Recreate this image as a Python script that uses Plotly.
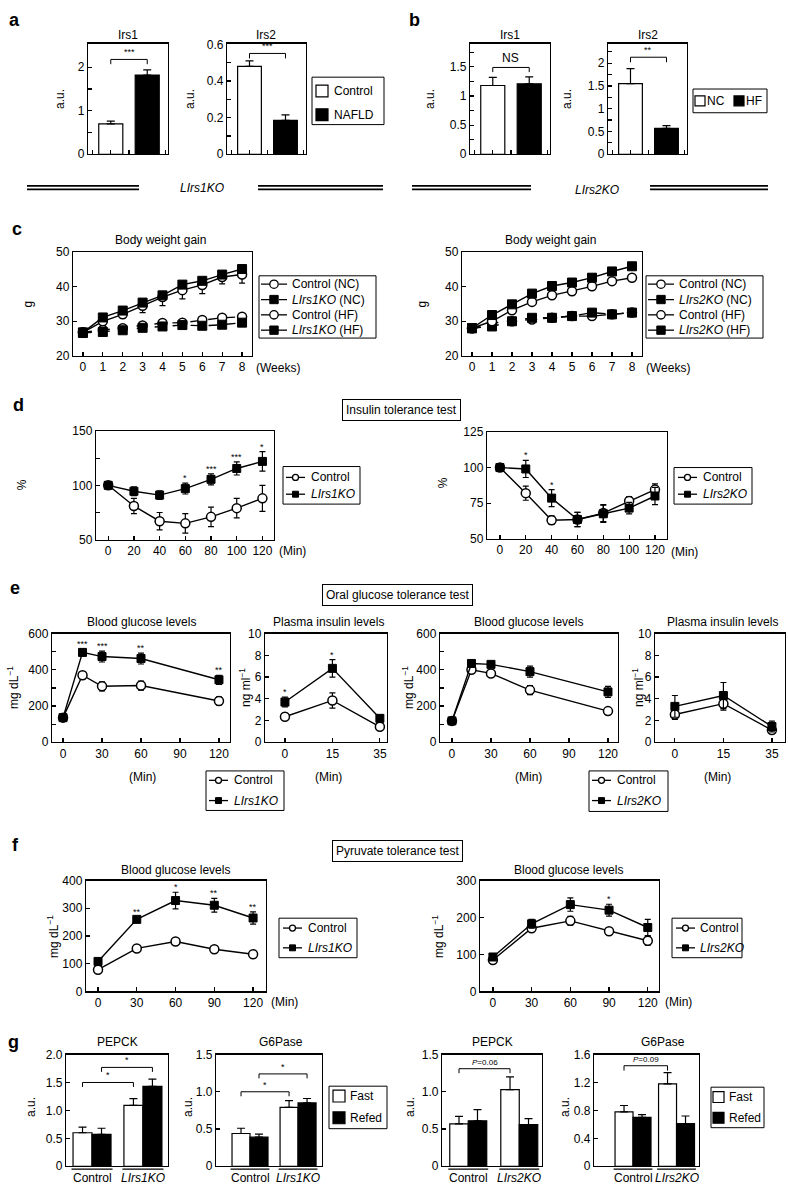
import plotly.graph_objects as go

W, H = 788, 1193
FONT = "Arial, 'Liberation Sans', Helvetica, sans-serif"

# ----------------------------- DATA -----------------------------
# a : human liver Irs1 / Irs2
a_groups = ["Control", "NAFLD"]
a_irs1 = [0.70, 1.82]
a_irs1_err = [0.06, 0.12]
a_irs2 = [0.48, 0.185]
a_irs2_err = [0.03, 0.03]
# b : mouse liver Irs1 / Irs2
b_groups = ["NC", "HF"]
b_irs1 = [1.18, 1.21]
b_irs1_err = [0.14, 0.12]
b_irs2 = [1.55, 0.57]
b_irs2_err = [0.33, 0.06]

# c : body weight gain
weeks = [0, 1, 2, 3, 4, 5, 6, 7, 8]
c1_ctrl_nc = [26.8, 27.5, 28.0, 28.8, 29.5, 29.6, 30.4, 31.0, 31.3]
c1_ko_nc = [26.6, 26.9, 27.4, 28.1, 28.5, 28.9, 28.7, 29.0, 29.6]
c1_ctrl_hf = [26.8, 30.0, 32.0, 34.5, 37.0, 39.0, 40.5, 42.8, 43.5]
c1_ctrl_hf_err = [0.5, 1.0, 1.0, 2.0, 2.5, 2.5, 2.5, 2.0, 2.5]
c1_ko_hf = [26.8, 31.1, 33.1, 35.4, 37.5, 40.6, 41.7, 43.5, 45.1]
c1_ko_hf_err = [0.5, 0.5, 0.6, 0.8, 0.8, 0.8, 0.8, 0.8, 0.8]
c2_ctrl_nc = [28.0, 29.5, 30.0, 30.5, 31.0, 31.5, 31.5, 32.0, 32.5]
c2_ko_nc = [28.0, 28.5, 30.0, 31.0, 31.0, 31.5, 32.5, 32.0, 32.5]
c2_ctrl_hf = [28.0, 30.0, 33.2, 35.6, 37.5, 38.7, 40.1, 41.6, 42.6]
c2_ctrl_hf_err = [0.5, 0.8, 0.8, 0.8, 0.8, 0.8, 0.8, 0.8, 1.0]
c2_ko_hf = [28.0, 31.8, 34.9, 38.0, 40.2, 41.2, 42.6, 44.4, 45.9]
c2_ko_hf_err = [0.5, 0.8, 0.8, 0.8, 0.8, 0.8, 0.8, 1.0, 1.0]

# d : insulin tolerance test (%)
itt_t = [0, 20, 40, 60, 80, 100, 120]
d1_ctrl = [100, 81, 67, 65, 71, 79, 88]
d1_ctrl_err = [1, 7, 8, 9, 9, 9, 12]
d1_ko = [100, 94.5, 91, 97, 105.5, 115.5, 122]
d1_ko_err = [1, 4, 4, 5, 5, 6, 9]
d1_sig = ["", "", "", "*", "***", "***", "*"]
d2_ctrl = [100, 82, 63, 63.5, 68, 76.5, 84.5]
d2_ctrl_err = [1, 5, 3, 5, 6, 3, 4]
d2_ko = [100, 99, 78.5, 63.5, 67.5, 71.5, 80]
d2_ko_err = [1, 6, 6, 5, 6, 4, 6]
d2_sig = ["", "*", "*", "", "", "", ""]

# e : oral glucose tolerance test
ogtt_t = [0, 15, 30, 60, 120]
e1_ctrl = [136, 370, 309, 313, 228]
e1_ctrl_err = [10, 20, 25, 25, 22]
e1_ko = [136, 496, 473, 462, 345]
e1_ko_err = [10, 18, 30, 30, 25]
e1_sig = ["", "***", "***", "**", "**"]
ins_t = ["0", "15", "35"]
e2_ctrl = [2.35, 3.85, 1.42]
e2_ctrl_err = [0.3, 0.7, 0.15]
e2_ko = [3.7, 6.8, 2.2]
e2_ko_err = [0.45, 0.8, 0.3]
e2_sig = ["*", "*", ""]
e3_ctrl = [118, 400, 380, 288, 172]
e3_ctrl_err = [10, 15, 15, 25, 15]
e3_ko = [118, 435, 430, 390, 278]
e3_ko_err = [10, 15, 15, 30, 30]
e4_ctrl = [2.55, 3.55, 1.12]
e4_ctrl_err = [0.45, 0.6, 0.25]
e4_ko = [3.3, 4.3, 1.45]
e4_ko_err = [1.0, 1.2, 0.5]

# f : pyruvate tolerance test
ptt_t = [0, 30, 60, 90, 120]
f1_ctrl = [78, 155, 180, 152, 134]
f1_ctrl_err = [4, 5, 10, 5, 5]
f1_ko = [108, 260, 328, 311, 265]
f1_ko_err = [5, 10, 30, 25, 22]
f1_sig = ["", "**", "*", "**", "**"]
f2_ctrl = [85, 171, 191, 163, 137]
f2_ctrl_err = [4, 5, 12, 8, 12]
f2_ko = [93, 183, 235, 220, 173]
f2_ko_err = [4, 12, 18, 16, 22]
f2_sig = ["", "", "", "*", ""]

# g : gene expression (a.u.), order: [Control, KO]
g1_fast = [0.60, 1.09]
g1_fast_err = [0.10, 0.12]
g1_refed = [0.57, 1.43]
g1_refed_err = [0.11, 0.13]
g2_fast = [0.44, 0.79]
g2_fast_err = [0.07, 0.09]
g2_refed = [0.39, 0.85]
g2_refed_err = [0.04, 0.06]
g3_fast = [0.57, 1.03]
g3_fast_err = [0.10, 0.17]
g3_refed = [0.61, 0.56]
g3_refed_err = [0.15, 0.08]
g4_fast = [0.78, 1.18]
g4_fast_err = [0.09, 0.16]
g4_refed = [0.70, 0.61]
g4_refed_err = [0.04, 0.11]

# ----------------------------- HELPERS -----------------------------
fig = go.Figure()
state = {"n": 0}
annotations = []
shapes = []
TICKSIZE = 12


def add_axes(box, xrange, yrange, ytickvals, yticktext, yminor=None, xtickvals=None, xticktext=None,
             xtype="linear", xticks="inside"):
    state["n"] += 1
    i = state["n"]
    sfx = "" if i == 1 else str(i)
    x0, x1, yt, yb = box
    common = dict(showline=True, mirror=True, linecolor="black", linewidth=1.2,
                  showgrid=False, zeroline=False, tickcolor="black", ticklen=4, tickwidth=1.2,
                  tickfont=dict(family=FONT, size=TICKSIZE, color="black"), fixedrange=True)
    ycfg = dict(domain=[1 - yb / H, 1 - yt / H], range=yrange, anchor="x" + sfx,
                tickvals=ytickvals, ticktext=yticktext, ticks="inside", **common)
    if yminor:
        ycfg["minor"] = dict(tickvals=yminor, ticks="inside", ticklen=4, tickwidth=1.2,
                             tickcolor="black", showgrid=False)
    xcfg = dict(domain=[x0 / W, x1 / W], range=xrange, anchor="y" + sfx, type=xtype,
                ticks=xticks, **common)
    if xtickvals is not None:
        if len(xtickvals) == 0:
            xcfg["showticklabels"] = False
        else:
            xcfg["tickvals"] = xtickvals
            xcfg["ticktext"] = xticktext
    fig.update_layout(**{"xaxis" + sfx: xcfg, "yaxis" + sfx: ycfg})
    return "x" + sfx, "y" + sfx


def text(x, y, s, size=12, angle=0, xanchor="center", italic=False, **kw):
    annotations.append(dict(x=x / W, y=1 - y / H, xref="paper", yref="paper", text=s,
                            showarrow=False, textangle=angle,
                            font=dict(family=FONT, size=size, color="black",
                                      style="italic" if italic else "normal"),
                            xanchor=xanchor, yanchor="middle", **kw))


def hline_px(x0, x1, y, w=1.8, dash="solid"):
    shapes.append(dict(type="line", xref="paper", yref="paper", x0=x0 / W, x1=x1 / W,
                       y0=1 - y / H, y1=1 - y / H, line=dict(color="black", width=w, dash=dash)))


def rect_px(x0, y0, x1, y1, fill="white", lw=1.0):
    shapes.append(dict(type="rect", xref="paper", yref="paper", x0=x0 / W, x1=x1 / W,
                       y0=1 - y1 / H, y1=1 - y0 / H, fillcolor=fill,
                       line=dict(color="black", width=lw)))


def circle_px(cx, cy, r, fill="white", lw=1.3):
    shapes.append(dict(type="circle", xref="paper", yref="paper", x0=(cx - r) / W, x1=(cx + r) / W,
                       y0=1 - (cy + r) / H, y1=1 - (cy - r) / H, fillcolor=fill,
                       line=dict(color="black", width=lw)))


def legend_line_item(xs0, xs1, y, kind, label, tx, dash="solid", r=3.5, size=12, italic=False):
    hline_px(xs0, xs1, y, w=1.3, dash=dash)
    cx = (xs0 + xs1) / 2
    if kind == "ctrl":
        circle_px(cx, y, r)
    else:
        rect_px(cx - r, y - r, cx + r, y + r, fill="black")
    text(tx, y, label, size=size, xanchor="left", italic=italic)


def legend_sq_item(x, y, s, fill, label, tx, size=12):
    rect_px(x, y - s / 2, x + s, y + s / 2, fill=fill, lw=1.2)
    text(tx, y, label, size=size, xanchor="left")


def bracket(xr, yr, xa, xb, y, drop, label, size=9):
    shapes.append(dict(type="path", xref=xr, yref=yr,
                       path=f"M {xa},{y - drop} L {xa},{y} L {xb},{y} L {xb},{y - drop}",
                       line=dict(color="black", width=1)))
    annotations.append(dict(x=(xa + xb) / 2, y=y, xref=xr, yref=yr, text=label, showarrow=False,
                            yanchor="bottom", yshift=0,
                            font=dict(family=FONT, size=size, color="black")))


def stars(xr, yr, xs, vals, errs, labels):
    for x, v, e, l in zip(xs, vals, errs, labels):
        if l:
            annotations.append(dict(x=x, y=v + e, xref=xr, yref=yr, text=l, showarrow=False,
                                    yanchor="bottom", yshift=-2,
                                    font=dict(family=FONT, size=9, color="black")))


def series(xr, yr, x, y, err, kind, name, dash="solid", size=8, minus_only=False, plus_only=False):
    if kind == "ctrl":
        marker = dict(symbol="circle", color="white", size=size, line=dict(color="black", width=1.5))
    else:
        marker = dict(symbol="square", color="black", size=size, line=dict(color="black", width=1))
    if minus_only:
        ey = dict(type="data", array=[0] * len(err), arrayminus=err, symmetric=False)
    elif plus_only:
        ey = dict(type="data", array=err, arrayminus=[0] * len(err), symmetric=False)
    else:
        ey = dict(type="data", array=err)
    ey.update(color="black", thickness=1.2, width=3)
    fig.add_trace(go.Scatter(x=x, y=y, xaxis=xr, yaxis=yr, mode="lines+markers",
                             line=dict(color="black", width=1.4, dash=dash), marker=marker,
                             error_y=ey, name=name, showlegend=False, cliponaxis=False))


def bar(xr, yr, x, y, err, color, name, width):
    fig.add_trace(go.Bar(x=x, y=y, xaxis=xr, yaxis=yr, width=width,
                         marker=dict(color=color, line=dict(color="black", width=1.2)),
                         error_y=dict(type="data", array=err, arrayminus=[0] * len(err),
                                      symmetric=False, color="black", thickness=1.2, width=4),
                         name=name, showlegend=False))


WHITE, BLACK = "white", "black"
KO1 = "LIrs1KO"
KO2 = "LIrs2KO"

# ----------------------------- PANEL a -----------------------------
text(14, 13, "<b>a</b>", size=18)
bar_pos = [0, 1]
xr, yr = add_axes((88, 168, 37, 149), [-0.625, 1.57], [0, 2.545],
                  [0, 1, 2], ["0", "1", "2"], [0.5, 1.5], [], [])
bar(xr, yr, [bar_pos[0]], [a_irs1[0]], [a_irs1_err[0]], WHITE, a_groups[0], 0.66)
bar(xr, yr, [bar_pos[1]], [a_irs1[1]], [a_irs1_err[1]], BLACK, a_groups[1], 0.66)
bracket(xr, yr, 0, 1, 2.18, 0.11, "***")
text(128, 28, "Irs1")
text(60, 93, "a.u.", angle=-90)

xr, yr = add_axes((227, 306, 37, 149), [-0.625, 1.57], [0, 0.605],
                  [0, 0.2, 0.4, 0.6], ["0", "0.2", "0.4", "0.6"], [0.1, 0.3, 0.5], [], [])
bar(xr, yr, [bar_pos[0]], [a_irs2[0]], [a_irs2_err[0]], WHITE, a_groups[0], 0.66)
bar(xr, yr, [bar_pos[1]], [a_irs2[1]], [a_irs2_err[1]], BLACK, a_groups[1], 0.66)
bracket(xr, yr, 0, 1, 0.551, 0.027, "***")
text(266, 28, "Irs2")
text(190, 93, "a.u.", angle=-90)
# legend a
rect_px(312, 71, 384, 119)
legend_sq_item(316, 85, 12, WHITE, a_groups[0], 332)
legend_sq_item(316, 109, 12, BLACK, a_groups[1], 332)

hline_px(27, 139, 181)
hline_px(27, 139, 184.5)
hline_px(258, 383, 181)
hline_px(258, 383, 184.5)
text(202, 183, KO1, size=12, italic=True)

# ----------------------------- PANEL b -----------------------------
text(414, 13, "<b>b</b>", size=18)
xr, yr = add_axes((470, 550, 37, 149), [-0.625, 1.57], [0, 1.9],
                  [0, 0.5, 1, 1.5], ["0", "0.5", "1", "1.5"], [0.25, 0.75, 1.25, 1.75], [], [])
bar(xr, yr, [bar_pos[0]], [b_irs1[0]], [b_irs1_err[0]], WHITE, b_groups[0], 0.66)
bar(xr, yr, [bar_pos[1]], [b_irs1[1]], [b_irs1_err[1]], BLACK, b_groups[1], 0.66)
bracket(xr, yr, 0, 1, 1.49, 0.08, "NS", size=12)
text(510, 28, "Irs1")
text(430, 93, "a.u.", angle=-90)

xr, yr = add_axes((608, 687, 37, 149), [-0.625, 1.57], [0, 2.43],
                  [0, 0.5, 1, 1.5, 2], ["0", "0.5", "1", "1.5", "2"],
                  [0.25, 0.75, 1.25, 1.75, 2.25], [], [])
bar(xr, yr, [bar_pos[0]], [b_irs2[0]], [b_irs2_err[0]], WHITE, b_groups[0], 0.66)
bar(xr, yr, [bar_pos[1]], [b_irs2[1]], [b_irs2_err[1]], BLACK, b_groups[1], 0.66)
bracket(xr, yr, 0, 1, 2.13, 0.11, "**")
text(648, 28, "Irs2")
text(567, 93, "a.u.", angle=-90)
# legend b
rect_px(693, 83, 767, 107)
legend_sq_item(695, 95, 10, WHITE, b_groups[0], 705)
legend_sq_item(734, 95, 10, BLACK, b_groups[1], 744)

hline_px(412, 531, 181)
hline_px(412, 531, 184.5)
hline_px(650, 768, 181)
hline_px(650, 768, 184.5)
text(597, 185, KO2, size=12, italic=True)

# ----------------------------- PANEL c -----------------------------
text(17, 225, "<b>c</b>", size=18)
for (box, cnc, knc, chf, chf_e, khf, khf_e, ko, lbox, tx, gx) in [
        ((73, 252, 248, 353), c1_ctrl_nc, c1_ko_nc, c1_ctrl_hf, c1_ctrl_hf_err, c1_ko_hf, c1_ko_hf_err,
         KO1, (259, 272, 376, 335), 160, 28),
        ((462, 642, 248, 353), c2_ctrl_nc, c2_ko_nc, c2_ctrl_hf, c2_ctrl_hf_err, c2_ko_hf, c2_ko_hf_err,
         KO2, (646, 272, 763, 335), 550, 422)]:
    xr, yr = add_axes(box, [-0.5, 8.5], [20, 50], [20, 30, 40, 50], ["20", "30", "40", "50"], None,
                      weeks, [str(w) for w in weeks])
    zero = [0.4] * len(weeks)
    series(xr, yr, weeks, cnc, zero, "ctrl", "Control (NC)", dash="dash", size=9)
    series(xr, yr, weeks, knc, zero, "ko", ko + " (NC)", dash="dash", size=9)
    series(xr, yr, weeks, chf, chf_e, "ctrl", "Control (HF)", size=9, minus_only=True)
    series(xr, yr, weeks, khf, khf_e, "ko", ko + " (HF)", size=9, plus_only=True)
    text(tx, 236, "Body weight gain", size=12)
    text(gx, 301, "g", angle=-90)
    text(box[1] + 26, 365, "(Weeks)")
    lx0, ly0, lx1, ly1 = lbox
    rect_px(lx0, ly0, lx1, ly1)
    labels = ["Control (NC)", "<i>" + ko + "</i> (NC)", "Control (HF)", "<i>" + ko + "</i> (HF)"]
    kinds = ["ctrl", "ko", "ctrl", "ko"]
    dashes = ["dash", "dash", "solid", "solid"]
    for k in range(4):
        legend_line_item(lx0 + 2, lx0 + 28, ly0 + 8.5 + k * 15.5, kinds[k], labels[k], lx0 + 31,
                         dash=dashes[k], r=4.2)

# ----------------------------- PANEL d -----------------------------
text(18, 403, "<b>d</b>", size=18)
text(401, 408, "Insulin tolerance test", size=12, bordercolor="black", borderwidth=1, borderpad=3)
xr, yr = add_axes((96, 274, 429, 539), [-9.5, 129], [50, 150], [50, 100, 150],
                  ["50", "100", "150"], [75, 125], itt_t, [str(t) for t in itt_t])
series(xr, yr, itt_t, d1_ctrl, d1_ctrl_err, "ctrl", "Control", size=9)
series(xr, yr, itt_t, d1_ko, d1_ko_err, "ko", KO1, size=8)
stars(xr, yr, itt_t, d1_ko, d1_ko_err, d1_sig)
text(22, 484, "%", angle=-90)
text(292, 550, "(Min)")
rect_px(283, 465, 360, 503)
legend_line_item(286, 305, 476, "ctrl", "Control", 309, r=3)
legend_line_item(286, 305, 493, "ko", KO1, 309, r=3, italic=True)

xr, yr = add_axes((487, 667, 430, 538), [-10, 129.3], [50, 125], [50, 75, 100, 125],
                  ["50", "75", "100", "125"], None, itt_t, [str(t) for t in itt_t])
series(xr, yr, itt_t, d2_ctrl, d2_ctrl_err, "ctrl", "Control", size=9)
series(xr, yr, itt_t, d2_ko, d2_ko_err, "ko", KO2, size=8)
stars(xr, yr, itt_t, d2_ko, d2_ko_err, d2_sig)
text(443, 482, "%", angle=-90)
text(684, 551, "(Min)")
rect_px(674, 466, 752, 503)
legend_line_item(678, 697, 476, "ctrl", "Control", 701, r=3)
legend_line_item(678, 697, 493, "ko", KO2, 701, r=3, italic=True)

# ----------------------------- PANEL e -----------------------------
text(15, 588, "<b>e</b>", size=18)
text(397, 595, "Oral glucose tolerance test", size=12, bordercolor="black", borderwidth=1, borderpad=3)
MG = "mg dL<sup>\u22121</sup>"
NG = "ng ml<sup>\u22121</sup>"
for (gbox, ibox, gx_rng, ix_rng, gc, gce, gk, gke, gs, ic, ice, ik, ike, isg, ko, lbox,
     gtitle_x, ititle_x, gy_lab, iy_lab, gmin_x, imin_x) in [
        ((52, 230, 634, 744), (265, 387, 634, 744), [-8.5, 128.5], [-0.42, 2.15],
         e1_ctrl, e1_ctrl_err, e1_ko, e1_ko_err, e1_sig, e2_ctrl, e2_ctrl_err, e2_ko, e2_ko_err, e2_sig,
         KO1, (206, 773, 284, 813), 141, 328, 13, 245, 142, 328),
        ((440, 618, 634, 744), (655, 785, 634, 744), [-9.2, 127.7], [-0.41, 2.27],
         e3_ctrl, e3_ctrl_err, e3_ko, e3_ko_err, [""] * 5, e4_ctrl, e4_ctrl_err, e4_ko, e4_ko_err, [""] * 3,
         KO2, (589, 773, 668, 814), 528, 722, 408, 638, 528, 717)]:
    xr, yr = add_axes(gbox, gx_rng, [0, 600], [0, 200, 400, 600],
                      ["0", "200", "400", "600"], [100, 300, 500], [0, 30, 60, 90, 120],
                      ["0", "30", "60", "90", "120"])
    series(xr, yr, ogtt_t, gc, gce, "ctrl", "Control", size=9)
    series(xr, yr, ogtt_t, gk, gke, "ko", ko, size=8)
    stars(xr, yr, ogtt_t, gk, gke, gs)
    text(gtitle_x, 622, "Blood glucose levels", size=12)
    text(gy_lab, 689, MG, angle=-90)
    text(gmin_x, 779, "(Min)")

    xr, yr = add_axes(ibox, ix_rng, [0, 10], [0, 2, 4, 6, 8, 10],
                      ["0", "2", "4", "6", "8", "10"], None, xtype="category")
    series(xr, yr, ins_t, ic, ice, "ctrl", "Control", size=9)
    series(xr, yr, ins_t, ik, ike, "ko", ko, size=8)
    stars(xr, yr, [0, 1, 2], ik, ike, isg)
    text(ititle_x, 622, "Plasma insulin levels", size=12)
    text(iy_lab, 689, NG, angle=-90)
    text(imin_x, 779, "(Min)")

    lx0, ly0, lx1, ly1 = lbox
    rect_px(lx0, ly0, lx1, ly1)
    legend_line_item(lx0 + 3, lx0 + 22, ly0 + 9.5, "ctrl", "Control", lx0 + 26, r=3)
    legend_line_item(lx0 + 3, lx0 + 22, ly0 + 30, "ko", ko, lx0 + 26, r=3, italic=True)

# ----------------------------- PANEL f -----------------------------
text(15, 848, "<b>f</b>", size=18)
text(397, 854, "Pyruvate tolerance test", size=12, bordercolor="black", borderwidth=1, borderpad=3)
xr, yr = add_axes((86, 266, 884, 996), [-9.3, 130], [0, 400], [0, 100, 200, 300, 400],
                  ["0", "100", "200", "300", "400"], None, ptt_t, [str(t) for t in ptt_t])
series(xr, yr, ptt_t, f1_ctrl, f1_ctrl_err, "ctrl", "Control", size=9)
series(xr, yr, ptt_t, f1_ko, f1_ko_err, "ko", KO1, size=8)
stars(xr, yr, ptt_t, f1_ko, f1_ko_err, f1_sig)
text(175, 873, "Blood glucose levels", size=12)
text(53, 940, MG, angle=-90)
text(284, 1007, "(Min)")
rect_px(279, 922, 357, 962)
legend_line_item(283, 302, 932, "ctrl", "Control", 306, r=3)
legend_line_item(283, 302, 952, "ko", KO1, 306, r=3, italic=True)

xr, yr = add_axes((480, 659, 884, 996), [-10, 128.7], [0, 300], [0, 100, 200, 300],
                  ["0", "100", "200", "300"], None, ptt_t, [str(t) for t in ptt_t])
series(xr, yr, ptt_t, f2_ctrl, f2_ctrl_err, "ctrl", "Control", size=9)
series(xr, yr, ptt_t, f2_ko, f2_ko_err, "ko", KO2, size=8)
stars(xr, yr, ptt_t, f2_ko, f2_ko_err, f2_sig)
text(568, 873, "Blood glucose levels", size=12)
text(438, 940, MG, angle=-90)
text(678, 1007, "(Min)")
rect_px(672, 922, 742, 962)
legend_line_item(676, 695, 932, "ctrl", "Control", 698, r=3)
legend_line_item(676, 695, 952, "ko", KO2, 698, r=3, italic=True)

# ----------------------------- PANEL g -----------------------------
text(13, 1047, "<b>g</b>", size=18)
for (box, xrng, yrng, yt, ytt, pf, prf, fast, fe, refd, re, ko, title, tx, ylx, brk) in [
        ((66, 168, 1060, 1173), [-0.87, 4.5], [0, 2], [0, 0.5, 1.0, 1.5, 2.0], ["0", "0.5", "1.0", "1.5", "2.0"],
         [0, 2.68], [1, 3.68], g1_fast, g1_fast_err, g1_refed, g1_refed_err, KO1,
         "PEPCK", 117, 31, [(0, 2.68, 1.50, 0.08, "*"), (1, 3.68, 1.77, 0.08, "*")]),
        ((216, 322, 1060, 1173), [-1.39, 4.5], [0, 1.5], [0, 0.5, 1.0, 1.5], ["0", "0.5", "1.0", "1.5"],
         [0, 2.67], [1, 3.67], g2_fast, g2_fast_err, g2_refed, g2_refed_err, KO1,
         "G6Pase", 281, 188, [(0, 2.67, 1.0, 0.06, "*"), (1, 3.67, 1.24, 0.06, "*")]),
        ((442, 542, 1060, 1173), [-0.92, 4.49], [0, 1.5], [0, 0.5, 1.0, 1.5], ["0", "0.5", "1.0", "1.5"],
         [0, 2.76], [1, 3.76], g3_fast, g3_fast_err, g3_refed, g3_refed_err, KO2,
         "PEPCK", 492, 410, [(0, 2.76, 1.31, 0.06, "<i>P</i>=0.06")]),
        ((594, 699, 1060, 1173), [-1.67, 4.17], [0, 1.6], [0, 0.4, 0.8, 1.2, 1.6], ["0", "0.4", "0.8", "1.2", "1.6"],
         [0, 2.42], [1, 3.42], g4_fast, g4_fast_err, g4_refed, g4_refed_err, KO2,
         "G6Pase", 663, 565, [(0, 2.42, 1.44, 0.07, "<i>P</i>=0.09")])]:
    centers = [(pf[0] + prf[0]) / 2, (pf[1] + prf[1]) / 2]
    xr, yr = add_axes(box, xrng, yrng, yt, ytt, None, [], [], xticks="")
    bar(xr, yr, pf, fast, fe, WHITE, "Fast", 1.0)
    bar(xr, yr, prf, refd, re, BLACK, "Refed", 1.0)
    for a_, b_, y_, d_, l_ in brk:
        bracket(xr, yr, a_, b_, y_, d_, l_, size=9 if l_ == "*" else 8)
    for g in range(2):
        shapes.append(dict(type="line", xref=xr, yref=yr + " domain", x0=pf[g] - 0.58, x1=prf[g] + 0.58,
                           y0=-0.025, y1=-0.025, line=dict(color="black", width=1.2)))
    for c_, lab, it in [(centers[0], "Control", False), (centers[1], ko, True)]:
        annotations.append(dict(x=c_, y=1 - 1185 / H, xref=xr, yref="paper", text=lab, showarrow=False,
                                xanchor="center", yanchor="middle",
                                font=dict(family=FONT, size=12, color="black",
                                          style="italic" if it else "normal")))
    text(tx, 1047, title, size=12)
    text(ylx, 1113, "a.u.", angle=-90)

# legends g
rect_px(329, 1092, 387, 1135)
legend_sq_item(333, 1102, 12, WHITE, "Fast", 348)
legend_sq_item(333, 1124, 12, BLACK, "Refed", 348)
rect_px(711, 1093, 764, 1134)
legend_sq_item(713, 1103, 11, WHITE, "Fast", 727)
legend_sq_item(713, 1124, 11, BLACK, "Refed", 727)

# ----------------------------- LAYOUT -----------------------------
fig.update_layout(
    width=W, height=H, autosize=False,
    margin=dict(l=0, r=0, t=0, b=0),
    paper_bgcolor="white", plot_bgcolor="white",
    font=dict(family=FONT, size=12, color="black"),
    barmode="overlay",
    showlegend=False,
    annotations=annotations,
    shapes=shapes,
)

fig.write_html(
    "out.html",
    config={"displayModeBar": False, "staticPlot": True},
    post_script="document.body.style.margin='0px';document.body.style.overflow='hidden';"
                "document.documentElement.style.overflow='hidden';",
)
